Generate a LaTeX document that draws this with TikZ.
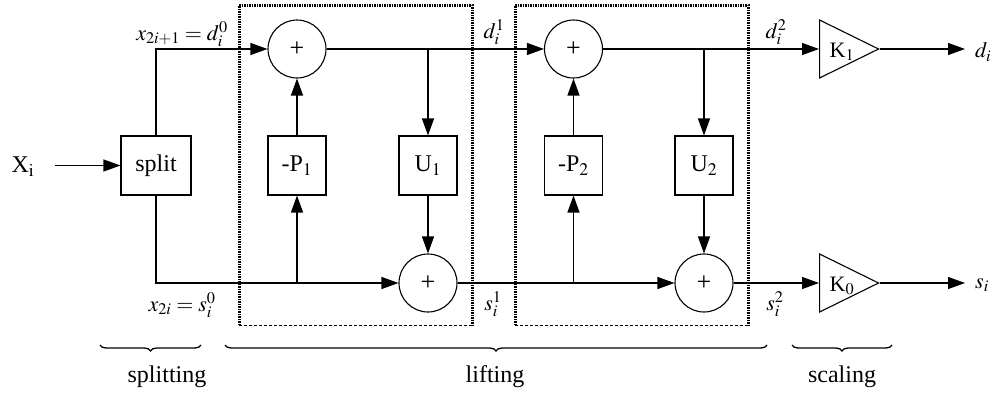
\documentclass[tikz,border=0pt]{standalone}
\usepackage{mathptmx}
\usepackage{fontspec}
\setmainfont{Liberation Serif}
\usetikzlibrary{arrows.meta,shapes.geometric,decorations.pathreplacing}

\begin{document}
\begin{tikzpicture}[x=1pt,y=-1pt,
  wire/.style={line width=1.2pt},
  arr/.style={wire,-{Triangle[length=17pt,width=12pt]}},
  blk/.style={draw,line width=1.1pt,minimum width=58pt,minimum height=59pt,inner sep=0pt,
    font=\fontsize{24}{26}\selectfont},
  sumnode/.style={draw,circle,line width=1.1pt,minimum size=58pt,inner sep=0pt,
    font=\fontsize{26}{28}\selectfont},
  amp/.style={draw,isosceles triangle,isosceles triangle stretches,minimum width=58pt,
    minimum height=59pt,inner sep=0pt,line width=1.1pt,anchor=lower side},
  sig/.style={inner sep=0pt,font=\fontsize{22}{24}\selectfont},
  txt/.style={inner sep=0pt,font=\fontsize{24}{26}\selectfont},
  gain/.style={inner sep=0pt,font=\fontsize{22}{24}\selectfont},
  dotside/.style={line width=3pt,dash pattern=on 1.5pt off 1pt},
  dashside/.style={line width=0.8pt,dash pattern=on 3pt off 2pt},
  brc/.style={line width=1.3pt,decorate,decoration={brace,mirror,amplitude=6pt}}
]
\useasboundingbox (0,0) rectangle (997,394);

% lifting stage frames
\draw[dotside] (239,325) -- (239,5) -- (472,5) -- (472,325);
\draw[dashside] (239,325) -- (472,325);
\draw[dotside] (515,325) -- (515,5) -- (748,5) -- (748,325);
\draw[dashside] (515,325) -- (748,325);

% blocks
\node[blk,minimum width=70pt] (split) at (156,165.5) {split};
\node[blk] (p1) at (297,165.5) {-P$_1$};
\node[blk] (u1) at (428,165.5) {U$_1$};
\node[blk] (p2) at (573.5,165.5) {-P$_2$};
\node[blk] (u2) at (704,165.5) {U$_2$};

\node[sumnode] (s1) at (297,49) {+};
\node[sumnode] (s2) at (428,283) {+};
\node[sumnode] (s3) at (573.5,49) {+};
\node[sumnode] (s4) at (704,283) {+};

\node[amp] (k1) at (819,49) {};
\node[amp] (k0) at (819,283) {};
\node[gain] (k1t) at (842,52) {K$_1$};
\node[gain] (k0t) at (842,286) {K$_0$};

% input
\node[txt] (xi) at (23,167) {X$_{\mathrm{i}}$};
\coordinate (xin) at (55,165.5);
\draw[arr] (xin) -- (split.west);

% odd / even branches out of the splitter
\draw[arr] (split.north) |- (s1.west);
\draw[arr] (split.south) |- (s2.west);

% first lifting step
\draw[arr] (p1.south |- s2.west) -- (p1.south);
\draw[arr] (p1.north) -- (s1.south);
\draw[arr] (u1.north |- s1.east) -- (u1.north);
\draw[arr] (u1.south) -- (s2.north);
\draw[arr] (s1.east) -- (s3.west);
\draw[arr] (s2.east) -- (s4.west);

% second lifting step
\draw[arr] (p2.south |- s4.west) -- (p2.south);
\draw[arr] (p2.north) -- (s3.south);
\draw[arr] (u2.north |- s3.east) -- (u2.north);
\draw[arr] (u2.south) -- (s4.north);

% scaling
\draw[arr] (s3.east) -- (k1.lower side);
\draw[arr] (s4.east) -- (k0.lower side);
\coordinate (dend) at (965,49);
\coordinate (send) at (965,283);
\draw[arr] (k1.apex) -- (dend);
\draw[arr] (k0.apex) -- (send);
\node[sig,anchor=west] (dout) at (975,52) {$d_i$};
\node[sig,anchor=west] (sout) at (975,285) {$s_i$};

% signal labels
\node[sig] (la) at (182,34) {$x_{2i+1}=d_i^0$};
\node[sig] (lb) at (182,305) {$x_{2i}=s_i^0$};
\node[sig] (lc) at (494,32) {$d_i^1$};
\node[sig] (ld) at (493,304) {$s_i^1$};
\node[sig] (le) at (776,32) {$d_i^2$};
\node[sig] (lf) at (775,304) {$s_i^2$};

% stage braces
\draw[brc] (100,345) -- (201,345);
\draw[brc] (225,345) -- (767,345);
\draw[brc] (792,345) -- (892,345);
\node[txt] (t1) at (167,377) {splitting};
\node[txt] (t2) at (495,377) {lifting};
\node[txt] (t3) at (842,377) {scaling};
\end{tikzpicture}
\end{document}
